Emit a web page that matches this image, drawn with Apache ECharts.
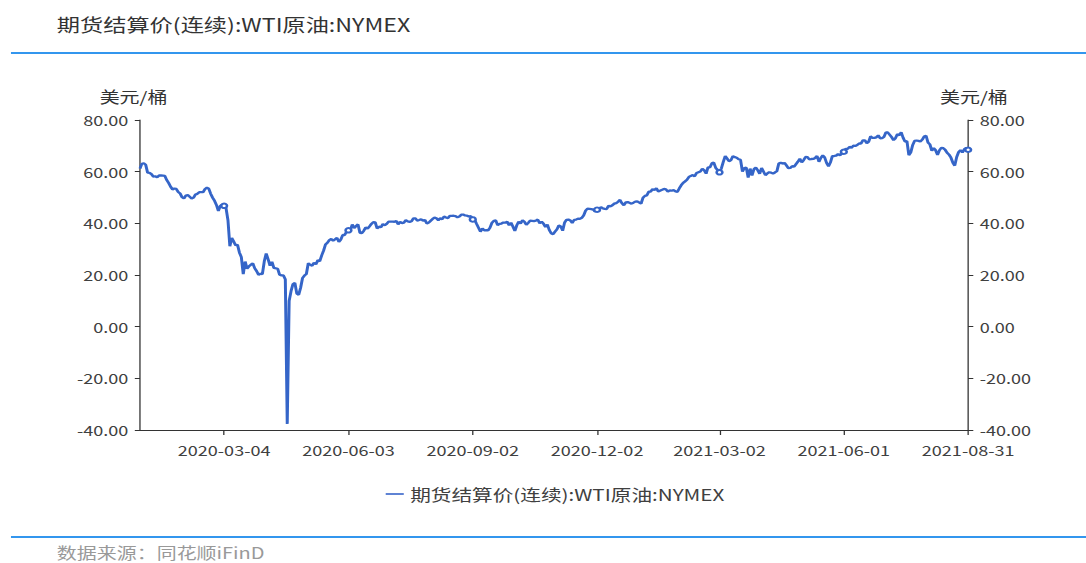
<!DOCTYPE html>
<html>
<head>
<meta charset="utf-8">
<script src="https://cdn.jsdelivr.net/npm/echarts@6/dist/echarts.min.js"></script>
<style>
html, body { margin: 0; padding: 0; background: #fff; overflow: hidden; }
/* 原图整体横向拉伸，这里同样横向放大 */
#chart { width: 842px; height: 563px; transform: scaleX(1.29); transform-origin: 0 0; }
</style>
</head>
<body>
<div id="chart"></div>
<script>
var titleText = '期货结算价(连续):WTI原油:NYMEX';
var seriesName = '期货结算价(连续):WTI原油:NYMEX';
var sourceText = '数据来源：同花顺iFinD';
var unitName = '美元/桶';

// 横轴显示的日期
var labelDates = ['2020-03-04', '2020-06-03', '2020-09-02', '2020-12-02', '2021-03-02', '2021-06-01', '2021-08-31'];
// 休市日（无结算价）
var holidays = ['2020-01-20', '2020-02-17', '2020-04-10', '2020-05-25', '2020-07-03', '2020-09-07', '2020-11-26', '2020-12-25',
	'2021-01-01', '2021-01-18', '2021-02-15', '2021-04-02', '2021-05-31', '2021-07-05'];

// 结算价，按交易日顺序
var prices2020 = [
	61.18,63.05,63.27,62.70,59.61,59.56,59.04,58.08,58.23,57.81,58.52,58.54,58.34,56.74,55.59,54.19,53.14,53.48,53.33,52.14,51.56,
	50.11,49.61,50.75,50.95,50.32,49.57,49.94,51.17,51.42,52.05,52.05,53.29,53.78,53.38,51.43,49.90,48.73,47.09,44.76,
	46.75,47.18,46.78,45.90,41.28,31.13,34.36,32.98,31.50,31.73,28.70,26.95,20.37,25.22,22.43,23.36,24.01,24.49,22.60,21.51,20.09,20.48,
	20.31,25.32,28.34,26.08,23.63,25.09,22.76,22.41,20.11,19.87,19.87,18.27,-37.63,10.01,13.78,16.50,16.94,12.78,12.34,15.06,18.84,
	19.78,20.39,24.56,23.99,23.55,24.74,24.14,25.78,25.29,27.56,29.43,31.82,32.50,33.49,33.92,33.25,34.35,32.81,33.71,35.49,
	35.44,36.81,37.29,37.41,39.55,38.19,38.94,39.60,36.34,36.26,37.12,38.38,37.96,38.84,39.75,40.46,40.37,38.01,38.72,38.49,39.70,39.27,
	39.82,40.65,40.63,40.62,40.90,39.62,40.55,40.10,40.29,41.20,40.75,40.59,40.81,41.96,41.90,41.07,41.29,41.60,41.04,41.27,39.92,40.27,
	41.01,41.70,42.19,41.95,41.22,41.94,41.61,42.67,42.24,42.01,42.89,42.89,42.93,42.82,42.34,42.62,43.35,43.39,43.04,42.97,42.61,
	42.76,41.51,41.37,39.77,36.76,38.05,37.30,37.33,37.26,38.28,40.16,40.97,41.11,39.31,39.80,39.93,40.31,40.25,40.60,39.29,40.22,
	38.72,37.05,39.22,40.67,39.95,41.19,40.60,39.43,40.20,41.04,40.96,40.88,41.06,41.46,40.03,40.64,39.85,38.56,39.57,37.39,36.17,35.79,
	36.81,37.66,39.15,38.79,37.14,40.29,41.36,41.45,41.12,40.13,41.34,41.43,41.82,41.74,42.15,43.06,44.91,45.71,45.53,45.34,
	44.55,45.28,45.64,46.26,45.76,45.60,45.52,46.78,46.57,46.99,47.62,47.82,48.36,49.10,47.74,47.02,48.12,48.23,47.62,48.00,48.40,48.52
];
var prices2021 = [
	47.62,49.93,50.63,50.83,52.24,52.25,53.21,52.91,53.57,52.36,52.98,53.31,53.13,52.27,52.77,52.61,52.85,52.34,52.20,
	53.55,54.76,55.69,56.23,56.85,57.97,58.36,58.68,58.24,59.47,60.05,61.14,60.52,59.24,61.70,61.67,63.22,63.53,61.50,
	60.64,59.75,61.28,63.83,66.09,65.05,64.01,64.44,66.02,65.61,65.39,64.80,64.60,60.00,61.42,61.55,57.76,61.18,58.56,60.97,61.56,60.55,59.16,
	61.45,58.65,59.33,59.77,59.60,59.32,59.70,60.18,63.15,63.46,63.13,63.38,62.44,61.35,61.43,62.14,61.91,62.94,63.86,65.01,63.58,
	64.49,65.69,65.63,64.71,64.90,64.92,65.28,66.08,63.82,65.37,66.27,65.49,63.36,62.05,63.58,66.05,66.07,66.21,66.85,66.32,
	67.72,68.83,68.81,69.62,69.23,70.05,69.96,70.29,70.91,70.88,72.12,72.15,71.04,71.64,73.66,73.06,73.08,73.30,74.05,72.91,72.98,73.47,
	75.23,75.16,73.37,72.20,72.94,74.56,74.10,75.25,73.13,71.65,71.81,66.42,67.42,70.30,71.91,72.07,71.91,71.65,72.39,73.62,73.95,
	71.26,70.56,68.15,69.09,68.28,66.48,68.29,69.25,69.09,68.44,67.29,66.59,65.46,63.50,62.32,65.64,67.54,68.36,67.42,68.74,69.21,68.50
];

var yMin = -40, yMax = 80, yStep = 20;

var FONT = '"Noto Sans CJK SC", "Microsoft YaHei", sans-serif';
var LINE_COLOR = '#3565c8';
var BAR_BLUE = '#3396ee';

// 工作日类目 2020-01-02 ~ 2021-08-31
function pad(n) { return n < 10 ? '0' + n : '' + n; }
var weekdays = [];
var t = Date.UTC(2020, 0, 2), tEnd = Date.UTC(2021, 7, 31);
while (t <= tEnd) {
	var dt = new Date(t);
	var wd = dt.getUTCDay();
	if (wd !== 0 && wd !== 6) {
		weekdays.push(dt.getUTCFullYear() + '-' + pad(dt.getUTCMonth() + 1) + '-' + pad(dt.getUTCDate()));
	}
	t += 86400000;
}
var tradeDays = weekdays.filter(function(d) { return holidays.indexOf(d) < 0; });
var prices = prices2020.concat(prices2021);
var seriesData = tradeDays.map(function(d, i) { return [d, prices[i]]; });

function showDate(index, value) {
	return labelDates.indexOf(value) >= 0;
}

function valueAxis(pos) {
	var left = pos === 'left';
	return {
		type: 'value',
		position: pos,
		min: yMin,
		max: yMax,
		interval: yStep,
		name: unitName,
		nameGap: 16,
		nameTextStyle: {
			fontFamily: FONT, fontSize: 15.5, color: '#333',
			padding: left ? [0, 10, 0, 0] : [0, 0, 0, 9]
		},
		axisLine: { show: true, lineStyle: { color: '#333', width: 1 } },
		axisTick: { show: true, length: 4, lineStyle: { color: '#333' } },
		axisLabel: {
			fontFamily: FONT, fontSize: 14, color: '#404040', margin: 9,
			formatter: function(v) { return v.toFixed(2); }
		},
		splitLine: { show: false }
	};
}

var chart = echarts.init(document.getElementById('chart'), null, { renderer: 'svg' });
chart.setOption({
	backgroundColor: '#fff',
	animation: false,
	title: {
		text: titleText,
		left: 44,
		top: 15,
		padding: 0,
		textStyle: { fontFamily: FONT, fontSize: 18, fontWeight: 'normal', color: '#333' }
	},
	graphic: [
		{ type: 'rect', shape: { x: 8.5, y: 52, width: 834, height: 2 }, style: { fill: BAR_BLUE } },
		{ type: 'rect', shape: { x: 8.5, y: 536, width: 834, height: 2 }, style: { fill: BAR_BLUE } },
		{ type: 'text', left: 44, top: 544, style: { text: sourceText, fontFamily: FONT, fontSize: 15.5, fill: '#999' } }
	],
	legend: {
		left: 294,
		top: 481,
		itemWidth: 14,
		itemHeight: 2,
		itemGap: 10,
		data: [{ name: seriesName, icon: 'rect', itemStyle: { color: '#5f83d4' } }],
		textStyle: { fontFamily: FONT, fontSize: 16, color: '#404040' }
	},
	grid: { left: 108.5, right: 91.5, top: 120, bottom: 133, containLabel: false },
	xAxis: {
		type: 'category',
		data: weekdays,
		boundaryGap: false,
		axisLine: { onZero: false, lineStyle: { color: '#333', width: 1 } },
		axisTick: { show: true, interval: showDate, length: 5, lineStyle: { color: '#333' } },
		axisLabel: { interval: showDate, fontFamily: FONT, fontSize: 14, color: '#404040', margin: 13 },
		splitLine: { show: false }
	},
	yAxis: [valueAxis('left'), valueAxis('right')],
	series: [{
		name: seriesName,
		type: 'line',
		data: seriesData,
		symbol: 'emptyCircle',
		symbolSize: 4.5,
		showSymbol: true,
		showAllSymbol: 'auto',
		lineStyle: { color: LINE_COLOR, width: 2.3 },
		itemStyle: { color: LINE_COLOR, borderWidth: 1 }
	}]
});
</script>
</body>
</html>
